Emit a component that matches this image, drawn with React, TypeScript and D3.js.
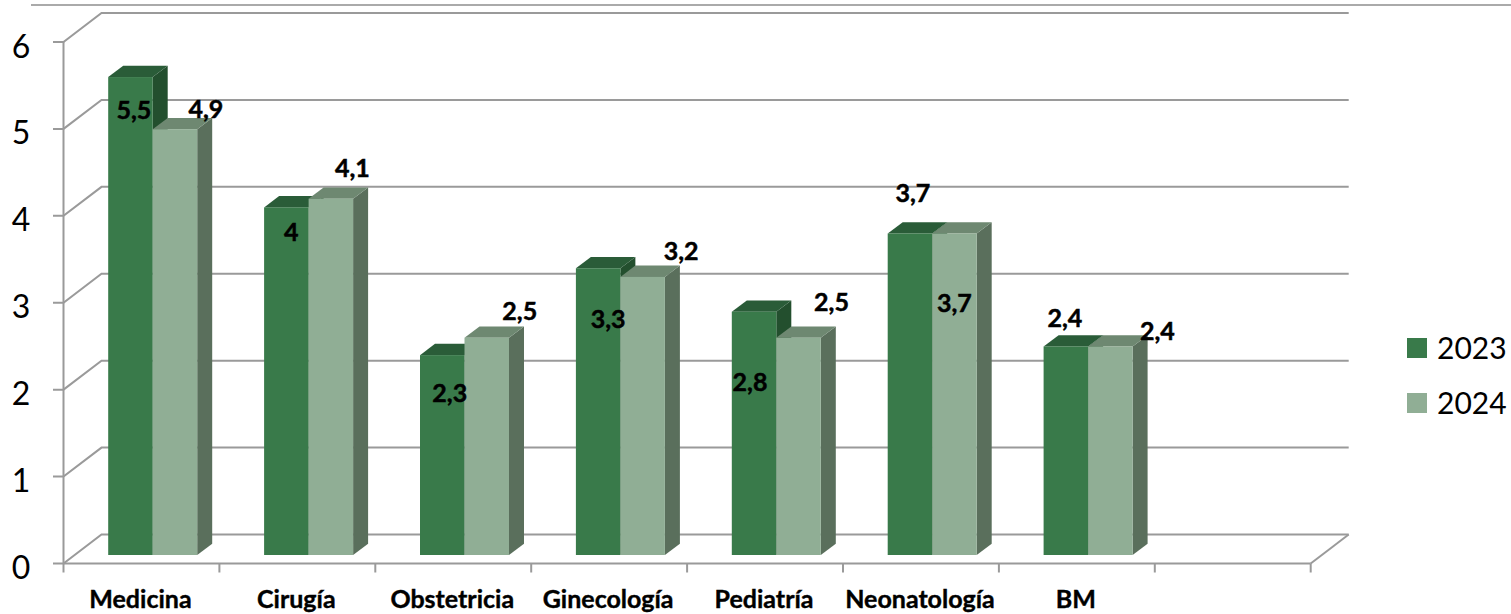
import React from "react";
import * as d3 from "d3";

const categories = ["Medicina", "Cirugía", "Obstetricia", "Ginecología", "Pediatría", "Neonatología", "BM"];
const values2023 = [5.5, 4, 2.3, 3.3, 2.8, 3.7, 2.4];
const values2024 = [4.9, 4.1, 2.5, 3.2, 2.5, 3.7, 2.4];
const seriesNames = ["2023", "2024"];
const yTicks = [0, 1, 2, 3, 4, 5, 6];
const slotCount = 8;

const palette = [
  { front: "#397A4A", top: "#2A5C38", side: "#234F2E" },
  { front: "#90AE95", top: "#6E8871", side: "#5A6F5C" },
];
// hand-placed label nudges of the original chart (dx, dy from the bar's front-top centre)
const labelNudge2023 = [[3.5, 32], [5, 24], [7.5, 37], [10, 50], [-4, 69], [3, -41], [-1, -29]];
const labelNudge2024 = [[31, -21], [21.5, -32], [33, -28], [38.5, -27], [33, -37], [0, 69], [47, -16]];

const fmt = (v: number) => String(v).replace(".", ",");
const FONT = "Lato, 'Open Sans', sans-serif";
const GRID = "#9A9A9A";

export default function App() {
  const xCat = d3.scaleLinear().domain([0, slotCount]).range([63.5, 1310.7]);
  const yFront = d3.scaleLinear().domain([0, 6]).range([563.5, 42]);
  const yBar = d3.scaleLinear().domain([0, 6]).range([555, 33.6]);
  const depth = { x: 38, y: -29 };
  const barDepth = { x: 15, y: -11.3 };
  const barW = 44.5;
  const barOffset = 44.7;
  const rows = [values2023, values2024];
  const nudges = [labelNudge2023, labelNudge2024];
  const slots = d3.range(slotCount + 1);

  return (
    <svg width={1511} height={614} style={{ position: "absolute", left: 0, top: 0, background: "#fff" }} fontFamily={FONT}>
      <line x1={31} x2={1511} y1={5} y2={5} stroke="#AAAAAA" strokeWidth={2} />
      {/* walls */}
      {yTicks.map((t) => {
        const y = yFront(t);
        return (
          <g key={t} stroke={GRID} strokeWidth={2} fill="none">
            <polyline points={`53,${y} ${xCat(0)},${y} ${xCat(0) + depth.x},${y + depth.y} ${xCat(slotCount) + depth.x},${y + depth.y}`} />
          </g>
        );
      })}
      <line x1={xCat(0)} x2={xCat(0)} y1={yFront(6)} y2={yFront(0)} stroke={GRID} strokeWidth={2} />
      <line x1={xCat(0)} x2={xCat(slotCount)} y1={yFront(0)} y2={yFront(0)} stroke={GRID} strokeWidth={2} />
      <line x1={xCat(slotCount)} x2={xCat(slotCount) + depth.x} y1={yFront(0)} y2={yFront(0) + depth.y} stroke={GRID} strokeWidth={2} />
      {slots.map((i) => (
        <line key={i} x1={xCat(i)} x2={xCat(i)} y1={yFront(0)} y2={yFront(0) + 9} stroke={GRID} strokeWidth={2} />
      ))}
      {/* y labels */}
      {yTicks.map((t) => (
        <text key={t} x={21} y={yFront(t) + 3} textAnchor="middle" dominantBaseline="central" fontSize={32} fill="#000">{t}</text>
      ))}
      {/* bars */}
      {categories.map((c, i) => (
        <g key={c}>
          {rows.map((vals, s) => {
            const x0 = xCat(i) + barOffset + s * barW;
            const x1 = x0 + barW;
            const yT = yBar(vals[i]);
            const yB = yBar(0);
            const col = palette[s];
            return (
              <g key={s}>
                <path d={`M${x1},${yT}L${x1 + barDepth.x},${yT + barDepth.y}L${x1 + barDepth.x},${yB + barDepth.y}L${x1},${yB}Z`} fill={col.side} />
                <path d={`M${x0},${yT}L${x0 + barDepth.x},${yT + barDepth.y}L${x1 + barDepth.x},${yT + barDepth.y}L${x1},${yT}Z`} fill={col.top} />
                <rect x={x0} y={yT} width={barW} height={yB - yT} fill={col.front} />
              </g>
            );
          })}
        </g>
      ))}
      {/* data labels */}
      {categories.map((c, i) =>
        rows.map((vals, s) => {
          const cx = xCat(i) + barOffset + s * barW + barW / 2;
          return (
            <text key={c + s} x={cx + nudges[s][i][0]} y={yBar(vals[i]) + nudges[s][i][1]} textAnchor="middle" dominantBaseline="central" fontSize={25} fontWeight={700} fill="#000" stroke="#000" strokeWidth={0.5}>
              {fmt(vals[i])}
            </text>
          );
        })
      )}
      {/* category labels */}
      {categories.map((c, i) => (
        <text key={c} x={(xCat(i) + xCat(i + 1)) / 2 - 1} y={598} textAnchor="middle" dominantBaseline="central" fontSize={25} fontWeight={700} fill="#000" stroke="#000" strokeWidth={0.4}>{c}</text>
      ))}
      {/* legend */}
      {seriesNames.map((n, s) => (
        <g key={n}>
          <rect x={1407} y={338 + s * 55} width={20} height={20} fill={palette[s].front} />
          <text x={1437} y={347 + s * 55} dominantBaseline="central" fontSize={30} fill="#000">{n}</text>
        </g>
      ))}
    </svg>
  );
}
